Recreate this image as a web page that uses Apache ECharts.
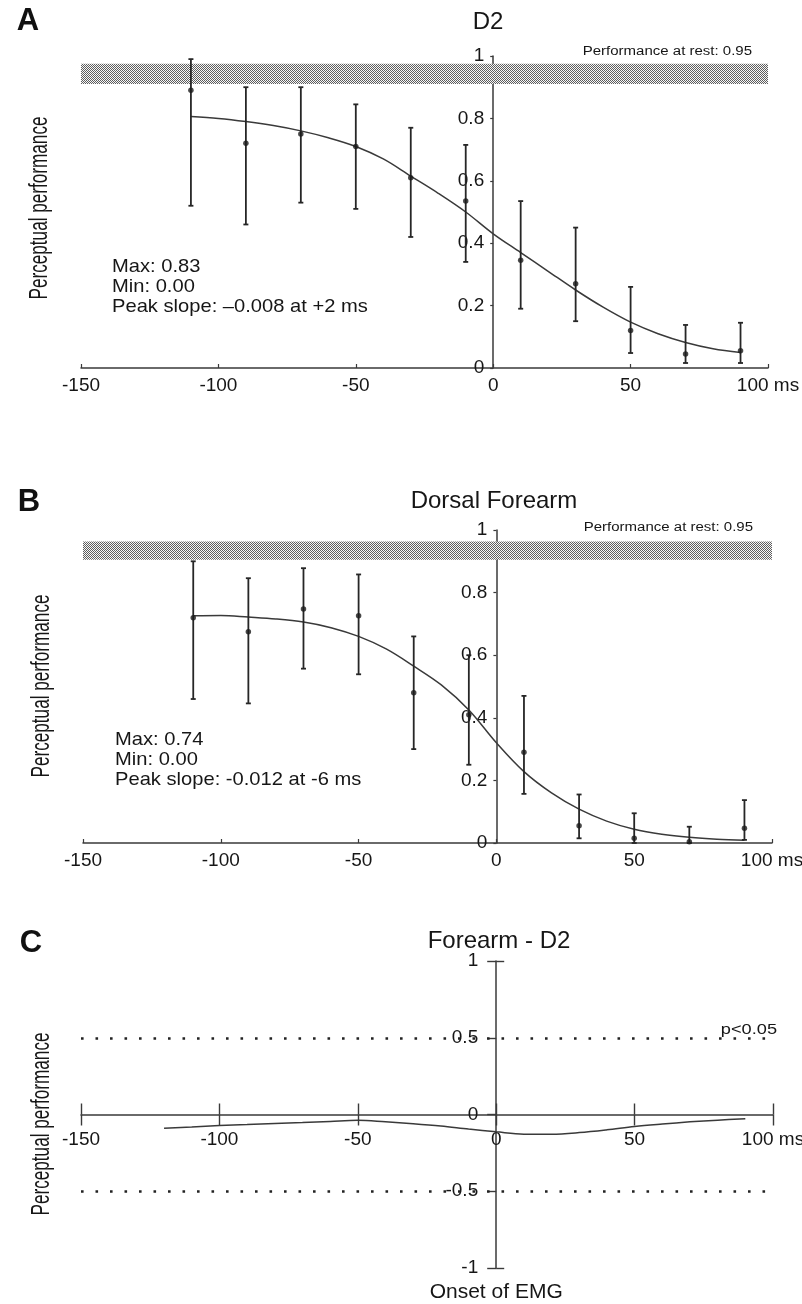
<!DOCTYPE html>
<html><head><meta charset="utf-8">
<script src="https://cdn.jsdelivr.net/npm/echarts@6/dist/echarts.min.js"></script>
<style>html,body{margin:0;padding:0;background:#fff}#chart{width:802px;height:1304px}</style>
</head><body><div id="chart"></div>
<script>
// ---------- data ----------
const xTickValues = [-150, -100, -50, 0, 50, 100];
const xTickText = ['-150', '-100', '-50', '0', '50', '100 ms'];

const pointTimes = [-110, -90, -70, -50, -30, -10, 10, 30, 50, 70, 90];
const d2Mean  = [0.89, 0.72, 0.75, 0.71, 0.61, 0.535, 0.345, 0.27, 0.12, 0.045, 0.055];
const d2Upper = [0.99, 0.90, 0.90, 0.845, 0.77, 0.715, 0.535, 0.45, 0.26, 0.138, 0.145];
const d2Lower = [0.52, 0.46, 0.53, 0.51, 0.42, 0.34, 0.19, 0.15, 0.048, 0.016, 0.016];

const forearmMean  = [0.72, 0.675, 0.748, 0.726, 0.48, 0.41, 0.29, 0.055, 0.015, 0.004, 0.047];
const forearmUpper = [0.90, 0.846, 0.878, 0.858, 0.66, 0.60, 0.47, 0.155, 0.095, 0.052, 0.137];
const forearmLower = [0.46, 0.446, 0.557, 0.539, 0.30, 0.25, 0.157, 0.015, 0.0, 0.0, 0.01];

const fitTimes = [-110, -100, -90, -80, -70, -60, -50, -40, -30, -20, -10, 0, 10, 20, 30, 40, 50, 60, 70, 80, 90];
const d2Fit = [0.806, 0.80, 0.79, 0.777, 0.76, 0.738, 0.71, 0.67, 0.615, 0.56, 0.50, 0.43, 0.37, 0.31, 0.25, 0.195, 0.147, 0.11, 0.082, 0.062, 0.05];
const forearmFit = [0.726, 0.727, 0.722, 0.716, 0.706, 0.688, 0.66, 0.62, 0.565, 0.505, 0.425, 0.32, 0.228, 0.16, 0.108, 0.07, 0.044, 0.028, 0.018, 0.012, 0.009];

const diffTimes = [-120, -110, -100, -90, -80, -70, -60, -50, -40, -30, -20, -10, 0, 10, 20, 30, 40, 50, 60, 70, 80, 90];
const diffFit = [-0.09, -0.082, -0.072, -0.065, -0.058, -0.052, -0.045, -0.038, -0.048, -0.06, -0.075, -0.095, -0.113, -0.128, -0.128, -0.118, -0.1, -0.078, -0.062, -0.048, -0.037, -0.028];

const restBandD2 = [0.91, 0.975];
const restBandForearm = [0.905, 0.963];
const significance = [0.5, -0.5];

// ---------- styles / layout ----------
const FONT = '"Liberation Sans", Arial, Helvetica, sans-serif';
const INK = '#161616';
const LINE = '#3a3a3a';
const X_MIN = xTickValues[0], X_MAX = xTickValues[xTickValues.length - 1];

const grids = [
  { left: 81, top: 56, width: 687, height: 312 },
  { left: 83, top: 530, width: 689, height: 313 },
  { left: 81, top: 961, width: 692, height: 307 }
];
// distance from the grid's left edge to x = 0, so the vertical axis can sit there
const zeroDx = g => g.width * (0 - X_MIN) / (X_MAX - X_MIN);

function makePattern() {
  const c = document.createElement('canvas');
  c.width = 2; c.height = 2;
  const g = c.getContext('2d');
  g.fillStyle = '#f7f7f7'; g.fillRect(0, 0, 2, 2);
  g.fillStyle = '#5e5e5e'; g.fillRect(0, 0, 1, 1); g.fillRect(1, 1, 1, 1);
  return c;
}
const bandFill = { image: makePattern(), repeat: 'repeat' };

const fmtX = v => { const i = xTickValues.indexOf(v); return i >= 0 ? xTickText[i] : String(v); };

function xAxisMain(gi, extra) {
  return Object.assign({
    type: 'value', gridIndex: gi, min: X_MIN, max: X_MAX, interval: 50,
    axisLine: { show: true, onZero: false, lineStyle: { color: LINE, width: 1.5 } },
    axisTick: { show: true, inside: true, length: 4, lineStyle: { color: LINE, width: 1.2 } },
    axisLabel: { show: true, margin: 8, color: INK, fontSize: 19, fontFamily: FONT, formatter: fmtX, showMinLabel: true, showMaxLabel: true, hideOverlap: false },
    splitLine: { show: false }
  }, extra || {});
}
function yAxisMain(gi, extra) {
  return Object.assign({
    type: 'value', gridIndex: gi, min: 0, max: 1, interval: 0.2,
    offset: -zeroDx(grids[gi]),
    axisLine: { show: true, onZero: false, lineStyle: { color: LINE, width: 1.5 } },
    axisTick: { show: true, length: 3, lineStyle: { color: LINE, width: 1.2 } },
    axisLabel: { show: true, margin: 9, color: INK, fontSize: 19, fontFamily: FONT, showMinLabel: true, showMaxLabel: true, hideOverlap: false },
    splitLine: { show: false }
  }, extra || {});
}

function errRender(params, api) {
  const x = api.value(0), lo = api.value(1), hi = api.value(2);
  const top = api.coord([x, hi]), bot = api.coord([x, lo]);
  const w = 2.5;
  const st = { stroke: '#262626', lineWidth: 1.8 };
  return { type: 'group', children: [
    { type: 'line', shape: { x1: top[0], y1: top[1], x2: bot[0], y2: bot[1] }, style: st },
    { type: 'line', shape: { x1: top[0] - w, y1: top[1], x2: top[0] + w, y2: top[1] }, style: st },
    { type: 'line', shape: { x1: bot[0] - w, y1: bot[1], x2: bot[0] + w, y2: bot[1] }, style: st }
  ]};
}
function bandRender(params, api) {
  const lo = api.value(0), hi = api.value(1);
  const p1 = api.coord([X_MIN, hi]), p2 = api.coord([X_MAX, lo]);
  return { type: 'rect', shape: { x: p1[0], y: p1[1], width: p2[0] - p1[0], height: p2[1] - p1[1] },
    style: { fill: bandFill } };
}

function panelSeries(idx, fit, mean, lower, upper, band) {
  return [
    { type: 'custom', xAxisIndex: idx, yAxisIndex: idx, renderItem: bandRender, z: 1, silent: true,
      data: [[band[0], band[1]]] },
    { type: 'line', xAxisIndex: idx, yAxisIndex: idx, data: fitTimes.map((t, i) => [t, fit[i]]),
      smooth: 0.35, showSymbol: false, silent: true, z: 2,
      lineStyle: { color: LINE, width: 1.5 } },
    { type: 'custom', xAxisIndex: idx, yAxisIndex: idx, renderItem: errRender, z: 3,
      data: pointTimes.map((t, i) => [t, lower[i], upper[i]]) },
    { type: 'scatter', xAxisIndex: idx, yAxisIndex: idx, symbol: 'circle', symbolSize: 5.5, z: 4,
      itemStyle: { color: '#1a1a1a' }, data: pointTimes.map((t, i) => [t, mean[i]]) }
  ];
}

function txt(x, y, text, size, align, extra) {
  return Object.assign({
    type: 'text', x: x, y: y, silent: true,
    style: { text: text, font: size + 'px ' + FONT, fill: INK, align: align, textAlign: align, verticalAlign: 'middle', textVerticalAlign: 'middle' }
  }, extra || {});
}
function boldTxt(x, y, text) {
  return { type: 'text', x: x, y: y, silent: true,
    style: { text: text, font: 'bold 31px ' + FONT, fill: '#111', align: 'center', textAlign: 'center', verticalAlign: 'middle', textVerticalAlign: 'middle' } };
}
function yLabel(x, y) {
  return txt(x, y, 'Perceptual performance', 25, 'center', { rotation: Math.PI / 2, scaleX: 0.686 });
}

const gC = grids[2];
const option = {
  backgroundColor: '#fff',
  animation: false,
  grid: grids.map(g => Object.assign({ containLabel: false, outerBoundsMode: 'none' }, g)),
  xAxis: [
    xAxisMain(0),
    xAxisMain(1),
    xAxisMain(2, {
      offset: -gC.height / 2,
      axisTick: { show: true, inside: false, length: 11, lineStyle: { color: LINE, width: 1.4 } },
      axisLabel: { show: true, margin: 16, color: INK, fontSize: 19, fontFamily: FONT, formatter: fmtX, showMinLabel: true, showMaxLabel: true, hideOverlap: false }
    }),
    xAxisMain(2, {
      position: 'top', offset: -gC.height / 2,
      axisLine: { show: false, onZero: false },
      axisTick: { show: true, inside: false, length: 11, lineStyle: { color: LINE, width: 1.4 } },
      axisLabel: { show: false }
    })
  ],
  yAxis: [
    yAxisMain(0),
    yAxisMain(1),
    yAxisMain(2, {
      min: -1, max: 1, interval: 0.5,
      axisTick: { show: true, length: 9, lineStyle: { color: LINE, width: 1.4 } },
      axisLabel: { show: true, margin: 18, color: INK, fontSize: 19, fontFamily: FONT, showMinLabel: true, showMaxLabel: true, hideOverlap: false },
      name: 'Onset of EMG', nameLocation: 'start', nameGap: 24,
      nameTextStyle: { color: INK, fontSize: 21, fontFamily: FONT, verticalAlign: 'middle', align: 'center' }
    }),
    yAxisMain(2, {
      position: 'right', min: -1, max: 1, interval: 2,
      offset: -(gC.width - zeroDx(gC)),
      axisLine: { show: false, onZero: false },
      axisTick: { show: true, length: 8, lineStyle: { color: LINE, width: 1.4 } },
      axisLabel: { show: false }
    })
  ],
  series: [
    ...panelSeries(0, d2Fit, d2Mean, d2Lower, d2Upper, restBandD2),
    ...panelSeries(1, forearmFit, forearmMean, forearmLower, forearmUpper, restBandForearm),
    { type: 'line', xAxisIndex: 2, yAxisIndex: 2, data: diffTimes.map((t, i) => [t, diffFit[i]]),
      smooth: 0.35, showSymbol: false, silent: true, z: 3,
      lineStyle: { color: LINE, width: 1.5 },
      markLine: { silent: true, symbol: 'none', label: { show: false },
        lineStyle: { color: '#222', width: 2.6, type: [2.6, 11.9] },
        data: significance.map(v => ({ yAxis: v })) } }
  ],
  graphic: [
    boldTxt(28, 21, 'A'), boldTxt(29, 502, 'B'), boldTxt(31, 943, 'C'),
    txt(488, 22, 'D2', 24, 'center'),
    txt(494, 501, 'Dorsal Forearm', 24, 'center'),
    txt(499, 941, 'Forearm - D2', 24, 'center'),
    txt(752, 52, 'Performance at rest: 0.95', 12, 'right', { scaleX: 1.25 }),
    txt(753, 528, 'Performance at rest: 0.95', 12, 'right', { scaleX: 1.25 }),
    txt(777, 1030, 'p<0.05', 14, 'right', { scaleX: 1.3 }),
    txt(112, 267, 'Max: 0.83', 19, 'left', { scaleX: 1.06 }),
    txt(112, 287, 'Min: 0.00', 19, 'left', { scaleX: 1.06 }),
    txt(112, 306.5, 'Peak slope: \u20130.008 at +2 ms', 19, 'left', { scaleX: 1.06 }),
    txt(115, 740, 'Max: 0.74', 19, 'left', { scaleX: 1.06 }),
    txt(115, 760, 'Min: 0.00', 19, 'left', { scaleX: 1.06 }),
    txt(115, 780, 'Peak slope: -0.012 at -6 ms', 19, 'left', { scaleX: 1.06 }),
    yLabel(40, 208), yLabel(42, 686), yLabel(42, 1124)
  ]
};

const chart = echarts.init(document.getElementById('chart'), null, { renderer: 'canvas' });
chart.setOption(option);
</script>
</body></html>
